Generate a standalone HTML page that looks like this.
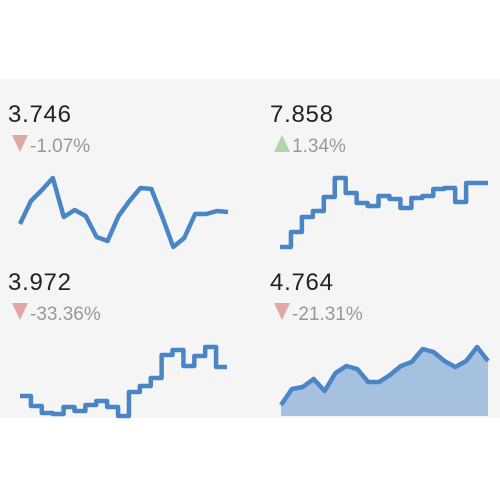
<!DOCTYPE html>
<html><head><meta charset="utf-8"><style>
html,body{margin:0;padding:0;background:#fff;width:500px;height:500px;overflow:hidden;font-family:"Liberation Sans",sans-serif}
</style></head><body>
<svg width="500" height="500">
<rect x="0" y="79" width="500" height="339" fill="#f5f5f5"/>
<g id="g"></g>
</svg>
<script>
// Panel values (arbitrary units)
const vals1 = [2.6,4.9,6.0,7.2,3.3,4.0,3.4,1.3,0.9,3.4,4.9,6.2,6.1,3.3,0.3,1.2,3.6,3.6,3.9,3.8];
const vals2 = [0.3,1.8,3.3,3.9,5.3,7.2,5.7,4.7,4.4,5.4,5.1,4.2,5.2,5.4,6.1,6.2,4.8,6.7,6.7];
const vals3 = [2.4,1.4,0.7,0.6,1.3,0.9,1.5,1.9,1.3,0.4,2.8,3.4,4.2,6.5,7.0,5.4,6.4,7.3,5.3];
const vals4 = [1.1,2.7,2.9,3.7,2.5,4.3,5.0,4.7,3.4,3.4,4.1,5.0,5.4,6.7,6.4,5.5,4.9,5.5,6.9,5.5];
const mainValues = ["3.746","7.858","3.972","4.764"];
const changeValues = ["-1.07%","1.34%","-33.36%","-21.31%"];
const changeUp = [false,true,false,false];

const NS="http://www.w3.org/2000/svg";
const g=document.getElementById('g');
function mk(t,a){const e=document.createElementNS(NS,t);for(const k in a)e.setAttribute(k,a[k]);g.appendChild(e);return e;}
const panels=[
 {x0:20,x1:228,base:250,tx:8,ty:122,type:'line',data:vals1},
 {x0:280,x1:488,base:250,tx:270,ty:122,type:'step',data:vals2},
 {x0:20,x1:227,base:420,tx:8,ty:290,type:'step',data:vals3},
 {x0:281,x1:488,base:416,tx:270,ty:290,type:'area',data:vals4}
];
panels.forEach((p,i)=>{
  const y=v=>p.base-v*10;
  const n=p.data.length;
  let d='';
  if(p.type==='step'){
    const w=(p.x1-p.x0)/n;
    p.data.forEach((v,j)=>{const xa=p.x0+j*w,xb=xa+w;d+=(j?'L':'M')+xa+','+y(v)+'L'+xb+','+y(v);});
  } else {
    const w=(p.x1-p.x0)/(n-1);
    p.data.forEach((v,j)=>{d+=(j?'L':'M')+(p.x0+j*w)+','+y(v);});
    if(p.type==='area'){
      const a=mk('path',{d:d+'L'+p.x1+','+p.base+'L'+p.x0+','+p.base+'Z',fill:'#a6c1df'});
      
      
    }
  }
  const l=mk('path',{d:d,fill:'none',stroke:'#4a86c6','stroke-width':4.5,'stroke-linejoin':'round'});
  
  
  const t=mk('text',{x:p.tx,y:p.ty,'font-size':24,fill:'#222',textLength:63});t.textContent=mainValues[i];
  
  
  const tx=p.tx+4, ty=p.ty+13;
  const tri=mk('path',{d:changeUp[i]?`M${tx},${ty+17}L${tx+8},${ty}L${tx+16},${ty+17}Z`:`M${tx},${ty}L${tx+16},${ty}L${tx+8},${ty+17}Z`,fill:changeUp[i]?'#b0d6a9':'#e0a8a5'});
  
  
  const c=mk('text',{x:p.tx+22,y:p.ty+30,'font-size':19,fill:'#999'});c.textContent=changeValues[i];
  
  
});
</script>
</body></html>
